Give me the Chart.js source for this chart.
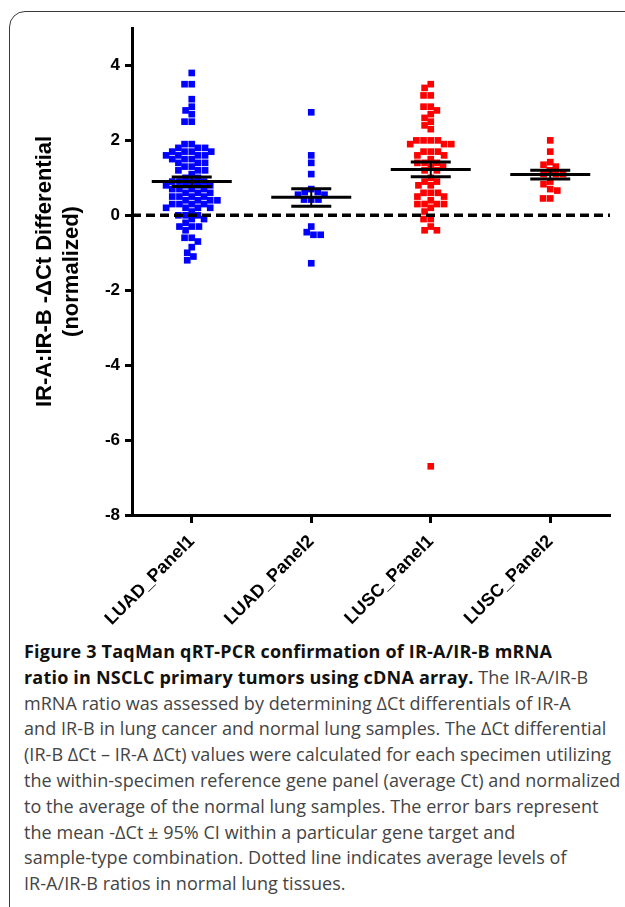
<!DOCTYPE html>
<html>
<head>
<meta charset="utf-8">
<script src="https://cdn.jsdelivr.net/npm/chart.js@4.4.1/dist/chart.umd.min.js"></script>
<style>
  html, body { margin: 0; padding: 0; background: #fff; }
  body { width: 625px; height: 907px; position: relative; overflow: hidden; }
  .frame { position: absolute; left: 9px; top: 11px; width: 700px; height: 1000px;
           border: 1.5px solid #3a3a3a; border-radius: 16px; }
  #chart { position: absolute; left: 0; top: 0; }
  .caption { position: absolute; left: 24px; top: 639px; font-family: "Open Sans", sans-serif;
             font-size: 18px; line-height: 25.8px; color: #444; white-space: nowrap; letter-spacing: 0.05px; }
  .caption b { color: #111; letter-spacing: 0.2px; }
</style>
</head>
<body>
<div class="frame"></div>
<canvas id="chart" width="625" height="632"></canvas>
<div class="caption">
<b>Figure 3 TaqMan qRT-PCR confirmation of IR-A/IR-B mRNA</b><br>
<b>ratio in NSCLC primary tumors using cDNA array.</b> The IR-A/IR-B<br>
mRNA ratio was assessed by determining ΔCt differentials of IR-A<br>
and IR-B in lung cancer and normal lung samples. The ΔCt differential<br>
(IR-B ΔCt – IR-A ΔCt) values were calculated for each specimen utilizing<br>
the within-specimen reference gene panel (average Ct) and normalized<br>
to the average of the normal lung samples. The error bars represent<br>
the mean -ΔCt ± 95% CI within a particular gene target and<br>
sample-type combination. Dotted line indicates average levels of<br>
IR-A/IR-B ratios in normal lung tissues.
</div>
<script>
const categories = ['LUAD_Panel1', 'LUAD_Panel2', 'LUSC_Panel1', 'LUSC_Panel2'];
const yTickValues = [-8, -6, -4, -2, 0, 2, 4];

const luadPanel1 = [3.8, 3.5, 3.5, 3.1, 2.9, 2.8, 2.7, 2.5, 2.5,
  1.9, 1.9, 1.8, 1.8, 1.8, 1.7, 1.7, 1.7, 1.7, 1.6, 1.6, 1.6, 1.6, 1.5, 1.5, 1.5,
  1.4, 1.4, 1.4, 1.3, 1.3, 1.2, 1.2, 1.2, 1.1, 1.0, 1.0, 0.9, 0.9, 0.9, 0.9,
  0.8, 0.8, 0.8, 0.8, 0.7, 0.7, 0.7, 0.7, 0.6, 0.6, 0.6, 0.5, 0.5, 0.5, 0.5,
  0.4, 0.4, 0.4, 0.4, 0.3, 0.3, 0.3, 0.3, 0.2, 0.2, 0.2, 0.2, 0.1, 0.0, 0.0, 0.0,
  -0.1, -0.1, -0.2, -0.3, -0.3, -0.3, -0.4, -0.6, -0.6, -0.7, -0.85, -1.0, -1.1, -1.2];
const luadPanel2 = [2.75, 1.6, 1.4, 1.1, 0.7, 0.62, 0.62, 0.55, 0.55, 0.42, 0.42, 0.42,
  -0.3, -0.45, -0.52, -0.52, -1.28];
const luscPanel1 = [3.5, 3.4, 3.2, 3.2, 2.9, 2.9, 2.8, 2.7, 2.6, 2.5, 2.4, 2.3,
  2.0, 2.0, 2.0, 2.0, 1.9, 1.9, 1.9, 1.7, 1.7, 1.7, 1.6, 1.6, 1.5, 1.4, 1.4, 1.4,
  1.3, 1.3, 1.2, 1.2, 1.0, 0.9, 0.9, 0.8, 0.8, 0.6, 0.6, 0.6, 0.5, 0.5, 0.4,
  0.3, 0.3, 0.3, 0.3, 0.2, 0.1, -0.1, -0.1, -0.3, -0.4, -0.4, -6.7];
const luscPanel2 = [2.0, 1.7, 1.42, 1.35, 1.3, 1.2, 1.1, 1.1, 1.1, 0.9, 0.83, 0.7, 0.66, 0.45, 0.45];

// mean and 95% CI
const groupMeans = [0.9, 0.48, 1.22, 1.09];
const ciLower = [0.77, 0.24, 1.03, 0.97];
const ciUpper = [1.02, 0.71, 1.42, 1.2];

// pixel size of one data unit (chart area 478 x 487 px, x 0..4, y -8..5)
const PX_X = 478 / 4;
const PX_Y = 487 / 13;
const DOT = 7.2;

// simple beeswarm: put each point at the free spot closest to the category centre
function swarm(values, center) {
  const placed = [];
  return values.slice().sort((a, b) => b - a).map(v => {
    const py = v * PX_Y;
    const blocked = [];
    placed.forEach(p => {
      const dy = Math.abs(p.y - py);
      if (dy < DOT) {
        const w = Math.sqrt(DOT * DOT - dy * dy);
        blocked.push([p.x - w, p.x + w]);
      }
    });
    const cands = [0];
    blocked.forEach(b => cands.push(b[0], b[1]));
    cands.sort((a, b) => Math.abs(a) - Math.abs(b) || a - b);
    const px = cands.find(c => blocked.every(b => c <= b[0] + 0.01 || c >= b[1] - 0.01));
    placed.push({ x: px, y: py });
    return { x: center + px / PX_X, y: v };
  });
}

const meanBars = {
  id: 'meanBars',
  afterDatasetsDraw(chart) {
    const { ctx, scales: { x, y } } = chart;
    ctx.save();
    ctx.strokeStyle = '#000';
    ctx.lineWidth = 3;
    const hline = (cx, v, half) => {
      const py = y.getPixelForValue(v);
      ctx.beginPath();
      ctx.moveTo(cx - half, py);
      ctx.lineTo(cx + half, py);
      ctx.stroke();
    };
    groupMeans.forEach((m, i) => {
      const cx = x.getPixelForValue(i + 0.5);
      hline(cx, m, 40);
      hline(cx, ciLower[i], 20);
      hline(cx, ciUpper[i], 20);
      ctx.lineWidth = 2;
      ctx.beginPath();
      ctx.moveTo(cx, y.getPixelForValue(ciLower[i]));
      ctx.lineTo(cx, y.getPixelForValue(ciUpper[i]));
      ctx.stroke();
      ctx.lineWidth = 3;
    });
    ctx.restore();
  }
};

const pointSet = (data, i, color) => ({
  data: swarm(data, i + 0.5),
  pointStyle: 'rect',
  pointRadius: 4.7,
  backgroundColor: color,
  borderWidth: 0,
  order: 1
});

Chart.defaults.font.family = 'Arial, "Liberation Sans", sans-serif';
Chart.defaults.color = '#000';

const dotChart = new Chart(document.getElementById('chart'), {
  type: 'scatter',
  data: {
    datasets: [
      pointSet(luadPanel1, 0, '#0000ff'),
      pointSet(luadPanel2, 1, '#0000ff'),
      pointSet(luscPanel1, 2, '#ff0000'),
      pointSet(luscPanel2, 3, '#ff0000'),
      {
        type: 'line',
        data: [{ x: 0, y: 0 }, { x: 4, y: 0 }],
        borderColor: '#000',
        borderWidth: 3.5,
        borderDash: [9, 5],
        pointRadius: 0,
        order: 0
      }
    ]
  },
  options: {
    responsive: false,
    animation: false,
    layout: { padding: { left: 28, top: 28, right: 15, bottom: 0 } },
    plugins: { legend: { display: false }, tooltip: { enabled: false } },
    scales: {
      x: {
        type: 'linear',
        min: 0,
        max: 4,
        afterBuildTicks: axis => { axis.ticks = categories.map((_, i) => ({ value: i + 0.5 })); },
        afterFit: axis => { axis.height = 117; },
        border: { color: '#000', width: 3 },
        grid: { drawOnChartArea: false, tickLength: 8, tickWidth: 3, tickColor: '#000' },
        ticks: {
          autoSkip: false,
          minRotation: 45,
          maxRotation: 45,
          padding: 8,
          font: { size: 18, weight: 'bold' },
          callback: (value, index) => categories[index]
        }
      },
      y: {
        min: -8,
        max: 5,
        afterBuildTicks: axis => { axis.ticks = yTickValues.map(v => ({ value: v })); },
        afterFit: axis => { axis.width = 104; },
        border: { color: '#000', width: 3 },
        grid: { drawOnChartArea: false, tickLength: 7, tickWidth: 3, tickColor: '#000' },
        ticks: { padding: 5, font: { size: 17, weight: 'bold' } },
        title: {
          display: true,
          text: ['IR-A:IR-B -ΔCt Differential', '(normalized)'],
          font: { size: 22, weight: 'bold', lineHeight: 1.2 },
          padding: { top: 4, bottom: 0 }
        }
      }
    }
  },
  plugins: [meanBars]
});
</script>
</body>
</html>
